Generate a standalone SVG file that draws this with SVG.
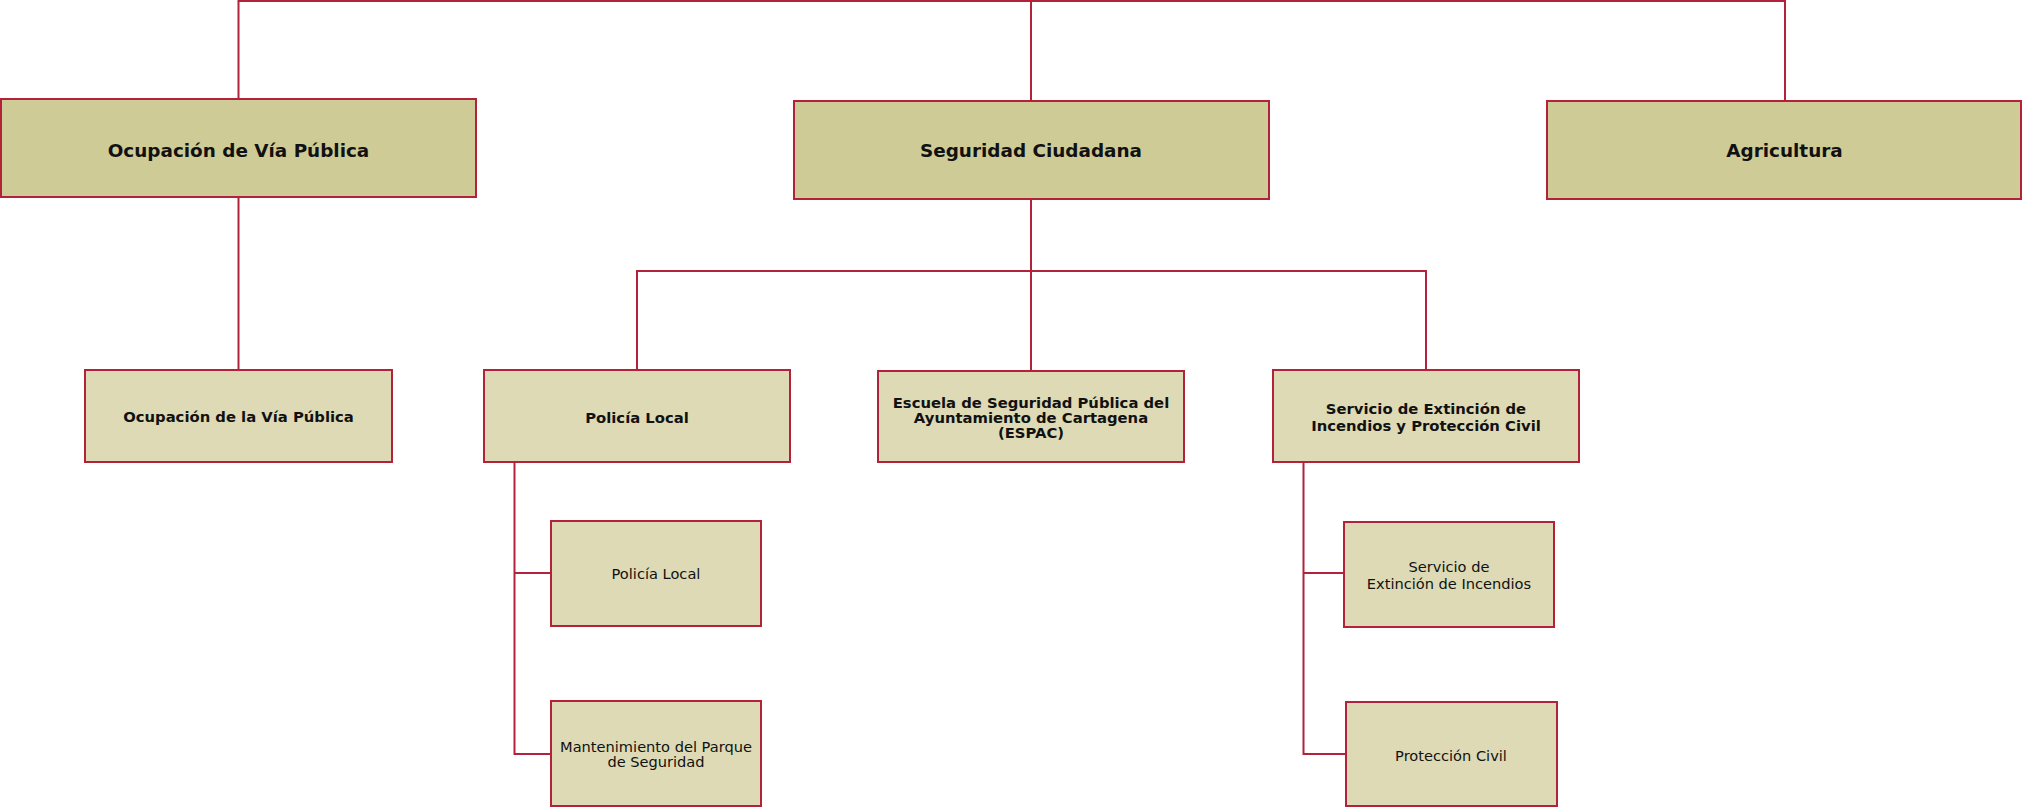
<svg xmlns="http://www.w3.org/2000/svg" width="2022" height="807" viewBox="0 0 2022 807">
<style>
.top{fill:#CECB96;stroke:#B2233B;stroke-width:2}
.sub{fill:#DDDAB5;stroke:#B2233B;stroke-width:2}
.conn{fill:none;stroke:#B2233B;stroke-width:2}
text{font-family:"DejaVu Sans",Verdana,sans-serif;fill:#111;text-anchor:middle}
.t1{font-size:18.4px;font-weight:bold}
.t2{font-size:14.8px;font-weight:bold}
.t3{font-size:14.6px}
</style>
<rect width="2022" height="807" fill="#fff"/>
<g id="connectors">
<path class="conn" d="M238.5,99 V1 H1785 V100"/>
<path class="conn" d="M1031,1 V100"/>
<path class="conn" d="M238.5,197 V370"/>
<path class="conn" d="M1031,199 V271 M637,370 V271 H1426 V370 M1031,271 V370"/>
<path class="conn" d="M514.5,462 V754 H551 M514.5,573 H551"/>
<path class="conn" d="M1303.5,462 V754 H1346 M1303.5,573 H1344"/>
</g>
<g id="n-ocupacion-via-publica">
<rect class="top" x="1" y="99" width="475" height="98"/>
<text class="t1" x="238.5" y="156.5">Ocupación de Vía Pública</text>
</g>
<g id="n-seguridad-ciudadana">
<rect class="top" x="794" y="101" width="475" height="98"/>
<text class="t1" x="1031" y="157">Seguridad Ciudadana</text>
</g>
<g id="n-agricultura">
<rect class="top" x="1547" y="101" width="474" height="98"/>
<text class="t1" x="1784.5" y="156.5">Agricultura</text>
</g>
<g id="n-ocupacion-la-via-publica">
<rect class="sub" x="85" y="370" width="307" height="92"/>
<text class="t2" x="238.5" y="421.5">Ocupación de la Vía Pública</text>
</g>
<g id="n-policia-local">
<rect class="sub" x="484" y="370" width="306" height="92"/>
<text class="t2" x="637" y="422.5">Policía Local</text>
</g>
<g id="n-espac">
<rect class="sub" x="878" y="371" width="306" height="91"/>
<text class="t2" x="1031" y="407.5">Escuela de Seguridad Pública del</text>
<text class="t2" x="1031" y="422.5">Ayuntamiento de Cartagena</text>
<text class="t2" x="1031" y="437.5">(ESPAC)</text>
</g>
<g id="n-servicio-extincion-proteccion">
<rect class="sub" x="1273" y="370" width="306" height="92"/>
<text class="t2" x="1426" y="414">Servicio de Extinción de</text>
<text class="t2" x="1426" y="430.7">Incendios y Protección Civil</text>
</g>
<g id="n-policia-local-2">
<rect class="sub" x="551" y="521" width="210" height="105"/>
<text class="t3" x="656" y="579.3">Policía Local</text>
</g>
<g id="n-mantenimiento">
<rect class="sub" x="551" y="701" width="210" height="105"/>
<text class="t3" x="656" y="751.7">Mantenimiento del Parque</text>
<text class="t3" x="656" y="766.7">de Seguridad</text>
</g>
<g id="n-servicio-extincion">
<rect class="sub" x="1344" y="522" width="210" height="105"/>
<text class="t3" x="1449" y="571.5">Servicio de</text>
<text class="t3" x="1449" y="589.3">Extinción de Incendios</text>
</g>
<g id="n-proteccion-civil">
<rect class="sub" x="1346" y="702" width="211" height="104"/>
<text class="t3" x="1451" y="760.7">Protección Civil</text>
</g>
</svg>
